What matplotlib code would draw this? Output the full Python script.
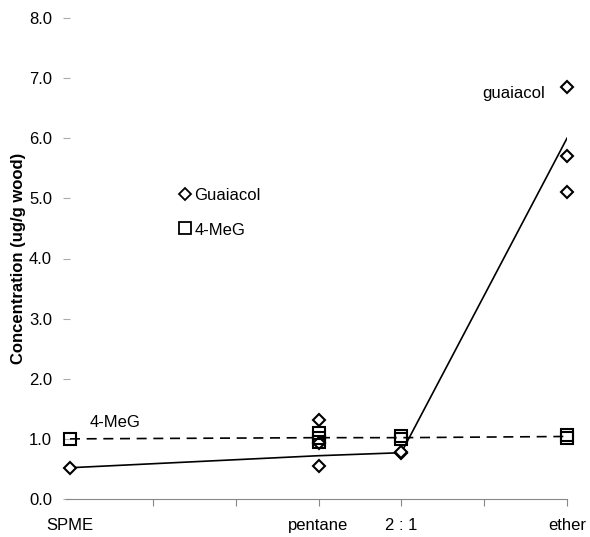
import matplotlib
matplotlib.use("Agg")
import matplotlib.pyplot as plt

plt.rcParams['font.family'] = ['Liberation Sans', 'DejaVu Sans']

# x positions of the extraction methods
x_spme, x_pentane, x_21, x_ether = 0, 3, 4, 6
tick_labels = ["SPME", "pentane", "2 : 1", "ether"]
tick_pos = [x_spme, x_pentane, x_21, x_ether]

# individual measurements
guaiacol_x = [0, 3, 3, 3, 4, 4, 6, 6, 6]
guaiacol_y = [0.52, 1.31, 0.93, 0.55, 0.76, 0.79, 6.85, 5.70, 5.10]
meg_x = [0, 3, 3, 3, 4, 4, 6, 6]
meg_y = [1.00, 1.10, 1.02, 0.95, 1.05, 1.00, 1.06, 1.02]

# trend lines
line_x = [0, 3, 4, 6]
guaiacol_line = [0.52, 0.72, 0.77, 6.0]
meg_line = [1.00, 1.02, 1.02, 1.04]

fig = plt.figure(figsize=(5.9, 5.37), dpi=100)
ax = fig.add_axes([70 / 590, 1 - 499 / 537, 497 / 590, 481 / 537])

ax.plot(line_x, guaiacol_line, color="black", lw=1.2, zorder=2)
ax.plot(line_x, meg_line, color="black", lw=1.2, ls=(0, (6, 4)), zorder=2)

ax.plot(guaiacol_x, guaiacol_y, ls="none", marker="D", ms=6.5, mfc="white",
        mec="black", mew=1.5, clip_on=False, zorder=3)
ax.plot(meg_x, meg_y, ls="none", marker="s", ms=9, mfc="none",
        mec="black", mew=1.5, clip_on=False, zorder=4)

ax.set_xlim(0, 6)
ax.set_ylim(0, 8)
ax.set_yticks([0, 1, 2, 3, 4, 5, 6, 7, 8])
ax.set_yticklabels([f"{v:.1f}" for v in range(9)], fontsize=12)
ax.set_xticks([1, 2, 3, 4, 5, 6])
ax.set_xticklabels([])
ax.tick_params(axis="x", direction="out", length=5, color="#888888")
ax.tick_params(axis="y", direction="out", length=5, color="#aaaaaa", pad=8)
for s in ["top", "right", "left"]:
    ax.spines[s].set_visible(False)
ax.spines["bottom"].set_color("#888888")
ax.spines["bottom"].set_bounds(-0.05, 6)

for lab, p in zip(tick_labels, tick_pos):
    ax.text(p, -0.32, lab, ha="center", va="top", fontsize=12)

ax.set_ylabel("Concentration (ug/g wood)", fontsize=12, fontweight="bold",
              labelpad=2)

# legend-like labels
ax.plot([1.39], [5.08], marker="D", ms=6, mfc="white", mec="black", mew=1.3,
        ls="none")
ax.text(1.50, 5.05, "Guaiacol", fontsize=12, va="center")
ax.plot([1.39], [4.5], marker="s", ms=8, mfc="none", mec="black", mew=1.3,
        ls="none")
ax.text(1.51, 4.47, "4-MeG", fontsize=12, va="center")

ax.text(5.35, 6.75, "guaiacol", fontsize=12, ha="center", va="center")
ax.text(0.55, 1.28, "4-MeG", fontsize=12, ha="center", va="center")

fig.savefig("out.png", dpi=100)
